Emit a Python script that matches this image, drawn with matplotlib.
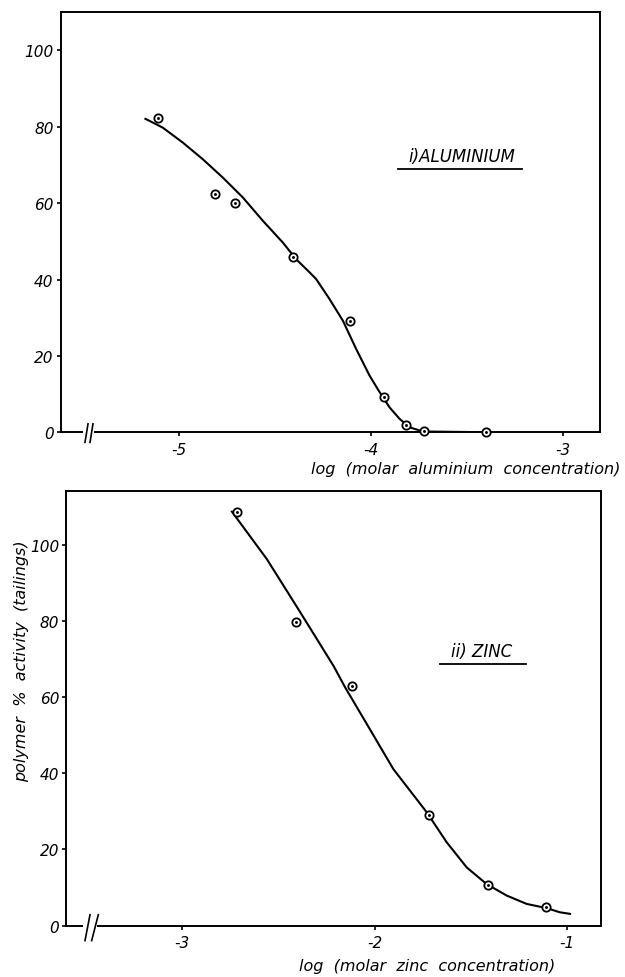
import matplotlib
matplotlib.use("Agg")
import matplotlib.pyplot as plt

plt.rcParams['font.family'] = ['DejaVu Sans']
plt.rcParams['font.style'] = 'italic'

# ---- data: aluminium ----
al_x = [-5.11, -4.81, -4.706, -4.407, -4.11, -3.932, -3.815, -3.723, -3.40]
al_y = [82.4, 62.5, 60.0, 45.9, 29.2, 9.2, 1.9, 0.4, 0.0]
al_curve_x = [-5.173, -5.083, -4.979, -4.874, -4.770, -4.666, -4.562, -4.458, -4.388,
              -4.319, -4.284, -4.215, -4.145, -4.076, -4.006, -3.954, -3.902, -3.850,
              -3.798, -3.729, -3.38]
al_curve_y = [82.1, 79.8, 75.9, 71.5, 66.7, 61.5, 55.4, 49.7, 45.3,
              41.9, 40.1, 34.9, 29.2, 21.8, 14.8, 10.5, 6.5, 3.5,
              1.3, 0.2, 0.0]
al_xticks = [-5, -4, -3]
al_yticks = [0, 20, 40, 60, 80, 100]

# ---- data: zinc ----
zn_x = [-2.713, -2.41, -2.116, -1.716, -1.410, -1.11]
zn_y = [108.5, 79.6, 62.8, 29.1, 10.8, 5.0]
zn_curve_x = [-2.742, -2.560, -2.387, -2.214, -2.154, -2.03, -1.903, -1.730, -1.626,
              -1.522, -1.418, -1.314, -1.210, -1.106, -1.037, -0.985]
zn_curve_y = [108.7, 96.2, 82.3, 68.2, 62.6, 52.0, 41.1, 29.8, 21.9,
              15.3, 10.9, 7.9, 5.7, 4.6, 3.5, 3.1]
zn_xticks = [-3, -2, -1]
zn_yticks = [0, 20, 40, 60, 80, 100]

fig = plt.figure(figsize=(6.25, 9.78), dpi=100)
ax1 = fig.add_axes([0.0968, 0.5570, 0.8632, 0.4294])
ax2 = fig.add_axes([0.1056, 0.0525, 0.8560, 0.4440])

TFS = 11
LFS = 11.5

def style(ax, xticks, yticks):
    for s in ax.spines.values():
        s.set_linewidth(1.4)
    ax.set_xticks(xticks)
    ax.set_yticks(yticks)
    ax.set_xticklabels([str(t) for t in xticks])
    ax.set_yticklabels([str(t) for t in yticks])
    ax.tick_params(direction='out', length=3, width=1.2, labelsize=TFS, pad=2)
    ax.tick_params(axis='x', pad=4)

def points(ax, xs, ys):
    ax.plot(xs, ys, 'o', ms=6, mfc='white', mec='black', mew=1.3, zorder=3, clip_on=False)
    ax.plot(xs, ys, '.', ms=2.2, color='black', zorder=4, clip_on=False)

def brk(ax, g0, g1, s1, s2, y0, y1):
    ax.plot([g0, g1], [0, 0], color='white', lw=3, transform=ax.transAxes,
            clip_on=False, zorder=5, solid_capstyle='butt')
    for (xa, xb) in (s1, s2):
        ax.plot([xa, xb], [y0, y1], color='black', lw=1.2, transform=ax.transAxes,
                clip_on=False, zorder=6)

# top panel
ax1.plot(al_curve_x, al_curve_y, color='black', lw=1.5, zorder=2)
points(ax1, al_x, al_y)
ax1.set_xlim(-5.615, -2.807)
ax1.set_ylim(0, 110)
style(ax1, al_xticks, al_yticks)
ax1.text(-3.527, 72.3, 'i)ALUMINIUM', fontsize=12, ha='center', va='center')
ax1.plot([-3.86, -3.215], [69.0, 69.0], color='black', lw=1.3)
fig.text(466 / 625, 1 - 470 / 978, 'log  (molar  aluminium  concentration)', fontsize=LFS,
         ha='center', va='center')
brk(ax1, 0.042, 0.063, (0.0454, 0.0510), (0.0547, 0.0602), -0.024, 0.020)

# bottom panel
ax2.plot(zn_curve_x, zn_curve_y, color='black', lw=1.5, zorder=2)
points(ax2, zn_x, zn_y)
ax2.set_xlim(-3.604, -0.824)
ax2.set_ylim(0, 114.0)
style(ax2, zn_xticks, zn_yticks)
ax2.text(-1.443, 72.2, 'ii) ZINC', fontsize=12, ha='center', va='center')
ax2.plot([-1.66, -1.214], [68.7, 68.7], color='black', lw=1.3)
fig.text(427 / 625, 1 - 967 / 978, 'log  (molar  zinc  concentration)', fontsize=LFS,
         ha='center', va='center')
fig.text(22 / 625, 1 - 661 / 978, 'polymer  %  activity  (tailings)', fontsize=LFS,
         rotation=90, ha='center', va='center')
brk(ax2, 0.032, 0.058, (0.0355, 0.0449), (0.0480, 0.0604), -0.0345, 0.0253)

fig.savefig('out.png', dpi=100)
